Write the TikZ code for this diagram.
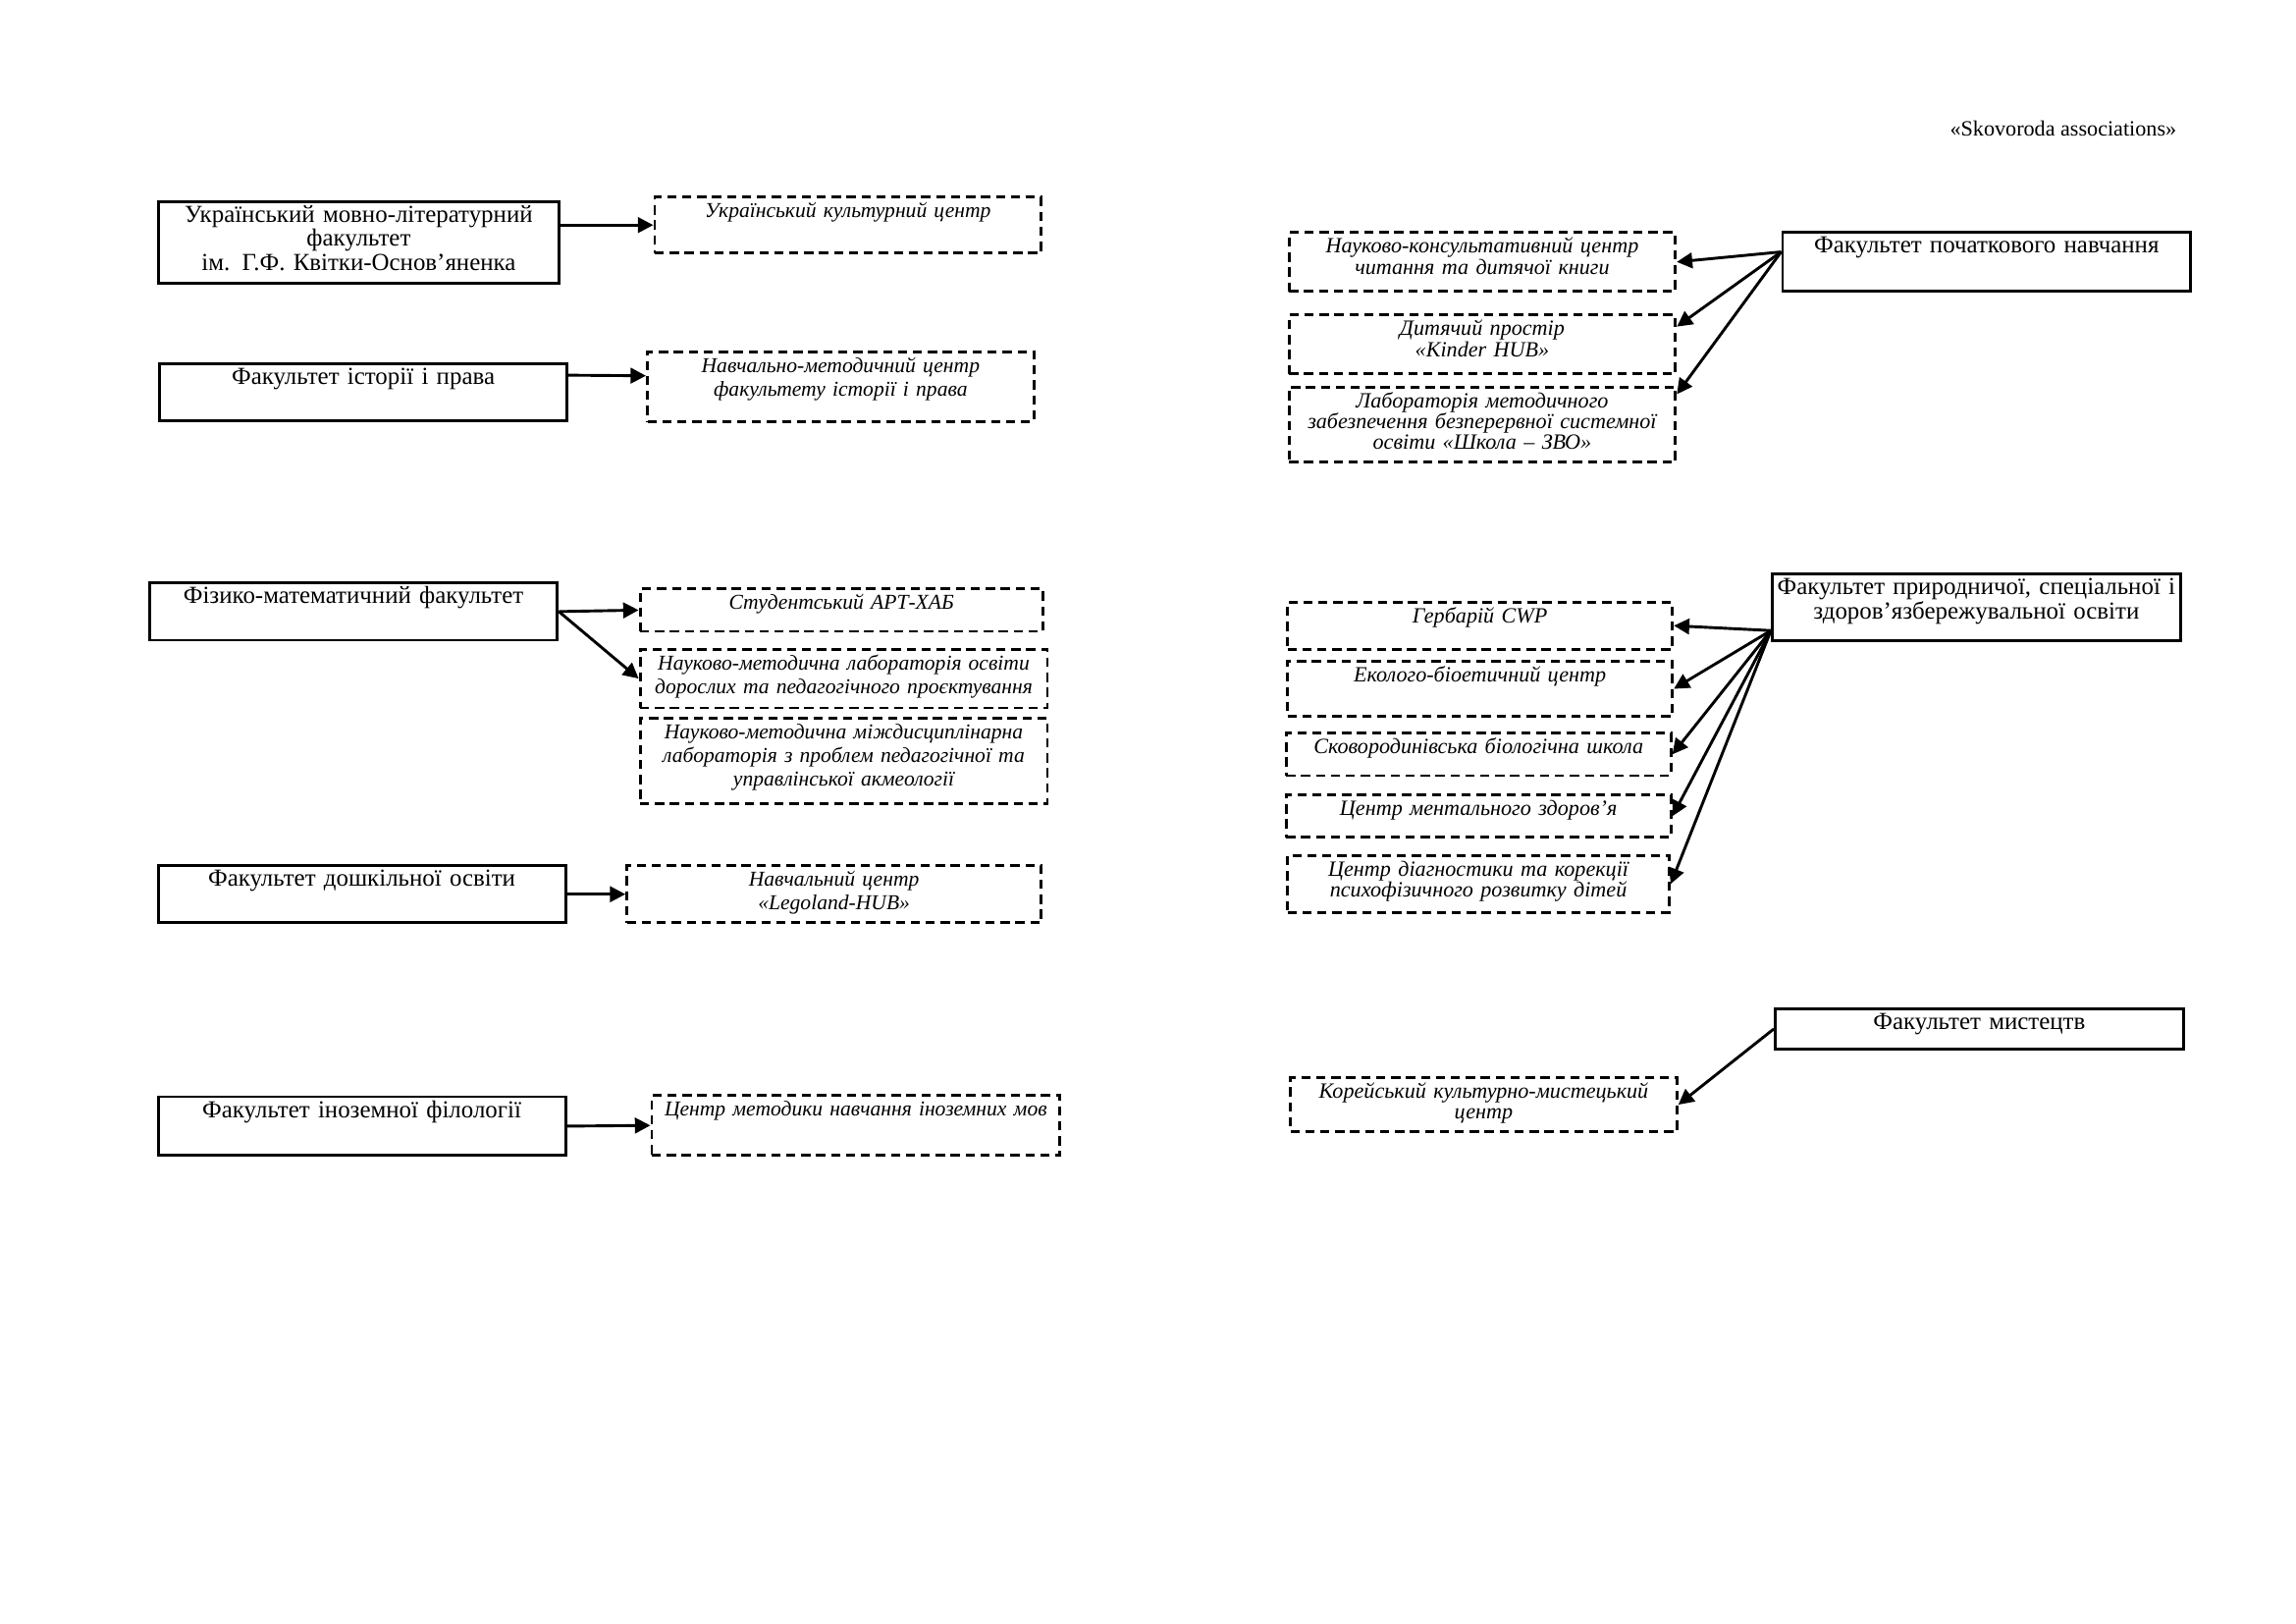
\documentclass[tikz,border=0pt]{standalone}
\usepackage{fontspec}
\setmainfont{Liberation Serif}
\usetikzlibrary{arrows.meta}
\newcommand\facfont{\fontsize{9}{8.8}\selectfont}
\newcommand\cenfont{\itshape\fontsize{7.8}{8.7}\selectfont}
\newcommand\cenrfont{\itshape\fontsize{8}{7.7}\selectfont}
\tikzset{
	fac/.style 2 args={draw,anchor=north west,inner xsep=0pt,inner ysep=1.6pt,
		text width=#1,text height=6pt,text depth=#2-9.2pt,align=center,font=\facfont},
	cent/.style 2 args={fac={#1}{#2},dash pattern=on 3.4pt off 2.1pt,font=\cenfont},
	centr/.style 2 args={cent={#1}{#2},font=\cenrfont}
}
\begin{document}
\begin{tikzpicture}[x=0.018947cm,y=-0.01905cm,line width=1.05pt,>={Triangle[length=2mm,width=2mm]}]
			\useasboundingbox (0,0) rectangle (1567.5,1103);
			\node[anchor=east,font=\fontsize{8}{9}\selectfont](title) at (1493,87) {«Skovoroda associations»};
			\node[fac={5.19cm}{1.05cm}](ulf) at (107,136) {Український мовно-літературний\\ факультет\\ ім. Г.Ф. Квітки-Основ’яненка};
			\node[fac={5.27cm}{0.74cm}](ist) at (108,246) {Факультет історії і права};
			\node[fac={5.28cm}{0.74cm}](fm) at (101,395) {Фізико-математичний факультет};
			\node[fac={5.27cm}{0.74cm}](dosh) at (107,587) {Факультет дошкільної освіти};
			\node[fac={5.27cm}{0.76cm}](inoz) at (107,744) {Факультет іноземної філології};
			\node[cent={5.00cm}{0.72cm}](ukc) at (446,133) {Український культурний центр};
			\node[cent={5.00cm}{0.90cm}](nmc) at (441,238) {Навчально-методичний центр\\ факультету історії і права};
			\node[cent={5.21cm}{0.55cm}](art) at (436,399) {Студентський АРТ-ХАБ};
			\node[cent={5.27cm}{0.76cm}](lod) at (436,440) {Науково-методична лабораторія освіти\\ дорослих та педагогічного проєктування};
			\node[cent={5.27cm}{1.10cm}](lak) at (436,487) {Науково-методична міждисциплінарна\\ лабораторія з проблем педагогічної та\\ управлінської акмеології};
			\node[cent={5.36cm}{0.74cm}](lego) at (427,587) {Навчальний центр\\ «Legoland-HUB»};
			\node[cent={5.28cm}{0.78cm}](mov) at (444,743) {Центр методики навчання іноземних мов};
			\node[fac={5.28cm}{0.76cm}](poch) at (1216,157) {Факультет початкового навчання};
			\node[fac={5.28cm}{0.86cm}](prir) at (1209,389) {Факультет природничої, спеціальної і\\ здоров’язбережувальної освіти};
			\node[fac={5.28cm}{0.53cm}](myst) at (1211,684) {Факультет мистецтв};
			\node[centr={5.00cm}{0.76cm}](ktc) at (879,157) {Науково-консультативний центр\\ читання та дитячої книги};
			\node[centr={5.00cm}{0.76cm}](kind) at (879,213) {Дитячий простір\\ «Kinder HUB»};
			\node[centr={5.00cm}{0.97cm}](shz) at (879,262) {Лабораторія методичного\\ забезпечення безперервної системної\\ освіти «Школа – ЗВО»};
			\node[centr={4.98cm}{0.61cm}](herb) at (878,408) {Гербарій CWP};
			\node[centr={4.98cm}{0.72cm}](ekb) at (878,448) {Еколого-біоетичний центр};
			\node[centr={4.98cm}{0.55cm}](sbs) at (877,497) {Сковородинівська біологічна школа};
			\node[centr={4.98cm}{0.55cm}](czd) at (877,539) {Центр ментального здоров’я};
			\node[centr={4.94cm}{0.74cm}](cdk) at (878,580) {Центр діагностики та корекції\\ психофізичного розвитку дітей};
			\node[centr={5.00cm}{0.70cm}](kor) at (880,731) {Корейський культурно-мистецький\\ центр};
			\path[->]
			(ulf.east |- ukc.west) edge (ukc.west)
			([yshift=0.22cm]ist.east) edge ([yshift=0.14cm]nmc.west)
			(fm.east) edge (art.west)
			(fm.east) edge (lod.west)
			(dosh.east) edge (lego.west)
			(inoz.east) edge (mov.west)
			([yshift=0.13cm]poch.west) edge (ktc.east)
			([yshift=0.13cm]poch.west) edge ([yshift=0.23cm]kind.east)
			([yshift=0.13cm]poch.west) edge ([yshift=-0.11cm]shz.north east)
			([yshift=-0.3cm]prir.west) edge (herb.east)
			([yshift=-0.3cm]prir.west) edge (ekb.east)
			([yshift=-0.3cm]prir.west) edge (sbs.east)
			([yshift=-0.3cm]prir.west) edge (czd.east)
			([yshift=-0.3cm]prir.west) edge (cdk.east)
			(myst.west) edge (kor.east);
\end{tikzpicture}
\end{document}
